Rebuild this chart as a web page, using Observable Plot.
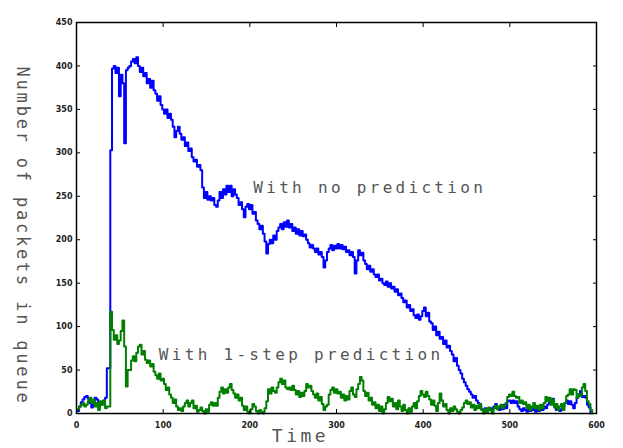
<!DOCTYPE html>
<html>
<head>
<meta charset="utf-8">
<script src="https://cdn.jsdelivr.net/npm/d3@7"></script>
<script src="https://cdn.jsdelivr.net/npm/@observablehq/plot@0.6"></script>
<style>
  html, body { margin: 0; padding: 0; background: #fff; }
</style>
</head>
<body>
<div id="chart"></div>
<script>
// Time samples every 2 units starting at t = 1
const timeStart = 1;
const timeStep = 2;

// Queue length, no prediction (blue)
const noPrediction = [
  3,8,13,16,19,20,17,12,7,12,18,16,8,10,12,15,18,
  52,52,303,397,400,392,398,365,390,380,311,395,398,400,405,408,403,410,400,
  393,398,388,392,380,385,375,383,372,368,360,365,355,350,345,350,340,345,338,
  330,318,325,330,322,315,318,308,312,302,305,295,290,292,284,286,280,260,248,
  255,246,250,245,248,240,238,245,255,248,258,252,262,255,262,250,258,252,248,
  240,243,235,226,238,241,235,240,230,232,222,218,212,216,207,198,184,195,200,
  196,205,200,210,214,218,212,220,215,222,214,218,210,214,207,212,205,210,204,
  206,200,196,191,194,190,186,190,183,186,180,168,176,186,190,194,188,193,190,
  195,190,194,189,192,186,188,182,186,180,161,176,188,182,185,176,172,166,170,
  163,166,160,157,160,153,155,150,148,152,146,150,144,146,140,143,136,138,133,
  128,130,122,125,118,120,113,110,114,108,112,118,122,112,116,106,104,96,100,
  90,94,86,88,80,84,76,78,72,68,60,64,55,50,46,40,36,32,28,25,22,18,20,15,12,
  8,5,3,6,2,4,6,3,8,11,6,4,8,5,10,6,14,15,12,15,12,14,8,5,3,6,4,2,5,3,6,4,2,
  5,3,6,4,8,6,10,12,16,17,10,4,7,3,5,8,12,15,11,14,10,6,12,18,22,26,19,20,18,
  10,7,0
];

// Queue length, with 1-step prediction (green)
const oneStepPrediction = [
  5,8,10,12,8,10,14,18,12,16,8,12,4,14,10,15,6,8,8,117,96,85,90,80,84,95,107,
  77,31,50,50,61,66,60,70,77,79,68,72,62,58,61,54,57,48,44,40,46,38,40,34,27,
  30,22,18,12,16,8,4,6,3,8,12,15,8,12,15,6,9,2,4,7,3,0,5,2,10,13,9,12,9,18,25,
  30,23,28,24,30,34,27,23,18,22,15,18,9,4,8,2,0,5,11,8,3,0,4,2,0,6,14,28,23,
  30,26,24,30,36,40,34,38,30,28,30,27,32,27,22,26,19,24,20,26,34,30,32,26,22,
  18,23,15,19,11,4,8,10,22,27,30,24,28,23,25,18,22,15,20,16,26,30,22,19,28,34,
  42,38,26,20,24,15,18,10,13,6,10,3,8,0,5,12,19,14,17,8,12,5,15,8,3,10,4,0,6,
  2,8,12,6,14,20,26,22,19,25,20,16,10,15,9,3,12,23,15,8,11,4,0,6,3,8,5,2,0,4,
  7,12,15,11,13,7,10,4,9,6,11,4,0,5,2,7,4,0,6,9,5,8,10,6,9,12,19,22,20,25,20,
  18,19,12,15,11,13,6,10,4,8,12,6,9,4,10,6,12,19,14,18,10,16,7,11,4,8,11,4,12,
  20,22,28,22,28,27,18,22,20,30,34,26,14,11,4,0
];

const xTicks = [0, 100, 200, 300, 400, 500, 600];
const yTicks = [0, 50, 100, 150, 200, 250, 300, 350, 400, 450];

const seriesLabels = ["With no prediction", "With 1-step prediction"];
const labelX = [204, 95];
const labelY = [260, 67];

const toRows = (vals) => vals.map((v, i) => ({t: timeStart + i * timeStep, v}));
const blueRows = toRows(noPrediction);
const greenRows = toRows(oneStepPrediction);
const labels = seriesLabels.map((s, i) => ({s, x: labelX[i], y: labelY[i]}));

const tickFont = {fontSize: 8, fontWeight: "bold", fontFamily: "DejaVu Sans", fill: "#222"};
const textFont = "DejaVu Sans Mono";

const chart = Plot.plot({
  width: 623,
  height: 448,
  marginLeft: 76,
  marginRight: 27,
  marginTop: 22,
  marginBottom: 35,
  x: {domain: [0, 600]},
  y: {domain: [0, 450]},
  style: {background: "#fff", overflow: "visible"},
  marks: [
    Plot.lineY(blueRows, {x: "t", y: "v", curve: "step-after", stroke: "#0000ff", strokeWidth: 2}),
    Plot.lineY(greenRows, {x: "t", y: "v", curve: "step-after", stroke: "#007f00", strokeWidth: 2}),
    Plot.frame({stroke: "#000", strokeWidth: 1.5}),
    Plot.axisX({anchor: "bottom", ticks: xTicks, tickSize: -4, tickPadding: 13, label: null, ...tickFont}),
    Plot.axisX({anchor: "top", ticks: xTicks, tickSize: -4, tickFormat: () => "", label: null}),
    Plot.axisY({anchor: "left", ticks: yTicks, tickSize: -4, tickPadding: 8, label: null, ...tickFont}),
    Plot.axisY({anchor: "right", ticks: yTicks, tickSize: -4, tickFormat: () => "", label: null}),
    Plot.text(labels, {x: "x", y: "y", text: "s", textAnchor: "start", fontFamily: textFont, fontSize: 16, fill: "#555"}),
    Plot.text(["Number of packets in queue"], {frameAnchor: "left", textAnchor: "middle", dx: -54, dy: 18, rotate: 90, fontFamily: textFont, fontSize: 17, fill: "#555", lineAnchor: "middle"}),
    Plot.text(["Time"], {frameAnchor: "bottom", textAnchor: "middle", dx: -36, dy: 28, fontFamily: textFont, fontSize: 18, fill: "#555"})
  ]
});

// widen the monospace letters like the original fixed-width font
const spacing = {"With no prediction": "3.3px", "With 1-step prediction": "3.3px", "Number of packets in queue": "2.8px", "Time": "3.5px"};
d3.select(chart).selectAll("text").each(function() {
  const s = spacing[this.textContent];
  if (s) this.style.letterSpacing = s;
});
document.getElementById("chart").appendChild(chart);
</script>
</body>
</html>
